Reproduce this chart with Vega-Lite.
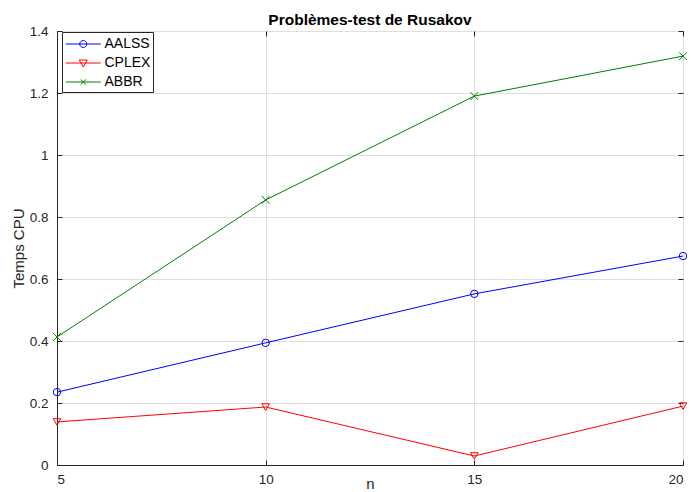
{
  "$schema": "https://vega.github.io/schema/vega-lite/v6.json",
  "autosize": {"type": "none"},
  "width": 626,
  "height": 434,
  "padding": {"left": 57, "top": 31, "right": 8, "bottom": 27},
  "background": "white",
  "title": {"text": "Problèmes-test de Rusakov", "font": "Liberation Sans", "fontSize": 15.5, "fontWeight": "bold", "color": "#000000", "offset": -4, "anchor": "middle"},
  "config": {
    "font": "Liberation Sans",
    "view": {"stroke": "#262626", "strokeWidth": 1},
    "axis": {"labelFont": "Liberation Sans", "labelFontSize": 13.5, "labelColor": "#262626", "titleFont": "Liberation Sans", "titleFontSize": 15, "titleFontWeight": "normal", "titleColor": "#262626", "domainColor": "#262626", "tickColor": "#262626", "gridColor": "#dfdfdf", "gridWidth": 1}
  },
  "data": {"values": [
    {"n": 5, "series": "AALSS", "t": 0.235},
    {"n": 10, "series": "AALSS", "t": 0.394},
    {"n": 15, "series": "AALSS", "t": 0.552},
    {"n": 20, "series": "AALSS", "t": 0.674},
    {"n": 5, "series": "CPLEX", "t": 0.139},
    {"n": 10, "series": "CPLEX", "t": 0.187},
    {"n": 15, "series": "CPLEX", "t": 0.029},
    {"n": 20, "series": "CPLEX", "t": 0.19},
    {"n": 5, "series": "ABBR", "t": 0.413},
    {"n": 10, "series": "ABBR", "t": 0.855},
    {"n": 15, "series": "ABBR", "t": 1.19},
    {"n": 20, "series": "ABBR", "t": 1.319}
  ]},
  "resolve": {"axis": {"x": "independent", "y": "independent"}, "scale": {"color": "independent", "shape": "independent"}},
  "layer": [
    {
      "mark": {"type": "line", "strokeWidth": 1},
      "encoding": {
        "x": {"field": "n", "type": "quantitative", "scale": {"domain": [5, 20], "nice": false, "zero": false},
              "axis": {"title": "n", "values": [5, 10, 15, 20], "tickSize": -5, "labelPadding": 12, "titlePadding": -9, "grid": true}},
        "y": {"field": "t", "type": "quantitative", "scale": {"domain": [0, 1.4], "nice": false},
              "axis": {"title": "Temps CPU", "values": [0, 0.2, 0.4, 0.6, 0.8, 1, 1.2, 1.4], "format": "~g", "tickSize": -5, "labelPadding": 14, "titlePadding": 3, "grid": true}},
        "color": {"field": "series", "type": "nominal",
                  "scale": {"domain": ["AALSS", "CPLEX", "ABBR"], "range": ["#0000ff", "#ff0000", "#008000"]}, "legend": null}
      }
    },
    {
      "mark": {"type": "point", "filled": false, "strokeWidth": 1, "opacity": 1},
      "encoding": {
        "x": {"field": "n", "type": "quantitative", "axis": {"orient": "top", "title": null, "labels": false, "values": [5, 10, 15, 20], "tickSize": -5, "grid": false, "domain": false}},
        "y": {"field": "t", "type": "quantitative", "axis": {"orient": "right", "title": null, "labels": false, "values": [0, 0.2, 0.4, 0.6, 0.8, 1, 1.2, 1.4], "tickSize": -5, "grid": false, "domain": false}},
        "color": {"field": "series", "type": "nominal",
                  "scale": {"domain": ["AALSS", "CPLEX", "ABBR"], "range": ["#0000ff", "#ff0000", "#008000"]}, "legend": null},
        "shape": {"field": "series", "type": "nominal", "scale": {"domain": ["AALSS", "CPLEX", "ABBR"], "range": ["circle", "triangle-down", "M-1,-1L1,1M-1,1L1,-1"]}, "legend": null},
        "size": {"field": "series", "type": "nominal", "scale": {"domain": ["AALSS", "CPLEX", "ABBR"], "range": [55, 60, 36]}, "legend": null}
      }
    },
    {
      "transform": [{"filter": "false"}],
      "mark": {"type": "point", "filled": false, "strokeWidth": 1, "size": 306},
      "encoding": {
        "x": {"field": "n", "type": "quantitative", "axis": null},
        "y": {"field": "t", "type": "quantitative", "axis": null},
        "color": {"field": "series", "type": "nominal",
                  "scale": {"domain": ["AALSS", "CPLEX", "ABBR"], "range": ["#0000ff", "#ff0000", "#008000"]},
                  "legend": {"title": null, "orient": "none", "legendX": 5, "legendY": 1, "fillColor": "white", "strokeColor": "#262626", "padding": 2.5, "labelFont": "Liberation Sans", "labelFontSize": 14, "labelColor": "#000000", "symbolSize": 306, "symbolStrokeWidth": 1, "symbolFillColor": "transparent", "symbolOpacity": 1, "rowPadding": 2, "labelOffset": 21}},
        "shape": {"field": "series", "type": "nominal",
                  "scale": {"domain": ["AALSS", "CPLEX", "ABBR"], "range": ["M-0.94,0H3.06M1.46,0A0.4,0.4 0 1,1 0.66,0A0.4,0.4 0 1,1 1.46,0", "M-0.94,0H3.06M0.6,-0.34L1.52,-0.34L1.06,0.46Z", "M-0.94,0H3.06M0.76,-0.3L1.36,0.3M0.76,0.3L1.36,-0.3"]},
                  "legend": {"title": null, "orient": "none", "legendX": 5, "legendY": 1, "fillColor": "white", "strokeColor": "#262626", "padding": 2.5, "labelFont": "Liberation Sans", "labelFontSize": 14, "labelColor": "#000000", "symbolSize": 306, "symbolStrokeWidth": 1, "symbolFillColor": "transparent", "symbolOpacity": 1, "rowPadding": 2, "labelOffset": 21}}
      }
    }
  ]
}
